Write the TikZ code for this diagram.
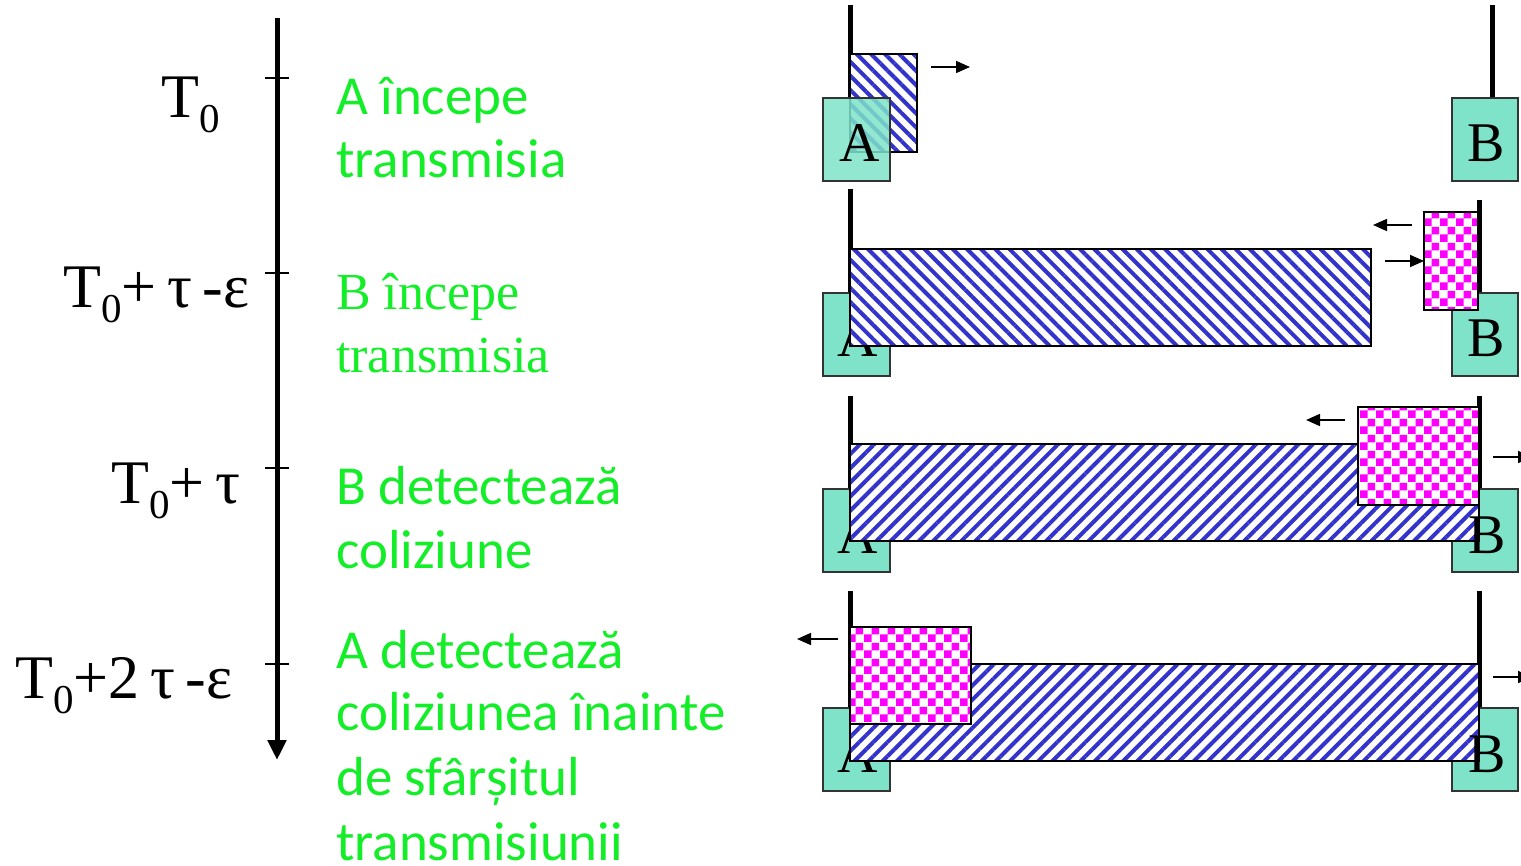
\documentclass[tikz,border=0pt]{standalone}
\usepackage{fontspec}
\setmainfont{Liberation Serif}
\newfontfamily\greenfont{Carlito}
\usetikzlibrary{arrows.meta,patterns,patterns.meta}
\definecolor{tealbox}{RGB}{126,227,200}
\definecolor{hatchblue}{RGB}{51,51,204}
\definecolor{grn}{RGB}{20,238,40}
\definecolor{mag}{RGB}{255,0,255}
\pgfdeclarepatternformonly{bigcheck}{\pgfpointorigin}{\pgfqpoint{16pt}{16pt}}{\pgfqpoint{16pt}{16pt}}{%
 \pgfpathrectangle{\pgfpointorigin}{\pgfqpoint{8pt}{8pt}}%
 \pgfpathrectangle{\pgfqpoint{8pt}{8pt}}{\pgfqpoint{8pt}{8pt}}%
 \pgfusepath{fill}}
\newcommand\subzero{\raisebox{-15pt}{\fontsize{41}{41}\selectfont 0}}
\newcommand\tgap{\hspace{0.17em}}
\begin{document}
\begin{tikzpicture}[x=1pt,y=-1pt,
  station/.style={draw=black!80,line width=1.6pt,fill=tealbox},
  stlabel/.style={inner sep=0pt,anchor=base,font=\fontsize{56}{56}\selectfont},
  wire/.style={line width=5pt},
  framedn/.style={draw=black,line width=1.6pt,preaction={fill=white},
     pattern={Lines[angle=-45,distance=10pt,line width=4pt]},pattern color=hatchblue},
  frameup/.style={draw=black,line width=1.6pt,preaction={fill=white},
     pattern={Lines[angle=45,distance=10pt,line width=4pt]},pattern color=hatchblue},
  jam/.style={draw=black,line width=1.6pt,preaction={fill=white},
     pattern=bigcheck,pattern color=mag},
  flow/.style={line width=1.6pt,-{Triangle[length=14pt,width=12pt]}},
  tlab/.style={inner sep=0pt,anchor=base west,font=\fontsize{62}{62}\selectfont},
  gtext/.style={inner sep=0pt,anchor=base west,text=grn,font=\greenfont\fontsize{55}{64}\selectfont},
  gserif/.style={inner sep=0pt,anchor=base west,text=grn,font=\fontsize{52}{64}\selectfont},
  tick/.style={line width=1.5pt}]
\useasboundingbox (0,0) rectangle (1521,866);
\clip (0,0) rectangle (1521,866);

% time axis
\coordinate (ax0) at (277,18);
\coordinate (ax1) at (277,760);
\draw[line width=5pt,-{Triangle[length=20pt,width=18pt]}] (ax0) -- (ax1);
\foreach \y/\n in {78/1,273/2,468/3,664/4}{
  \coordinate (tka\n) at (265,\y);
  \coordinate (tkb\n) at (289,\y);
  \draw[tick] (tka\n) -- (tkb\n);
}

% time labels
\node[tlab] (t1) at (161,118) {T\subzero};
\node[tlab] (t2) at (63,308) {T\subzero+\tgap τ\tgap -ε};
\node[tlab] (t3) at (111,503) {T\subzero+\tgap τ};
\node[tlab] (t4) at (15,698) {T\subzero+2\tgap τ\tgap -ε};

% green texts
\node[gtext] (g1a) at (336,115) {A începe};
\node[gtext] (g1b) at (336,178) {transmisia};
\node[gserif] (g2a) at (336,310) {B începe};
\node[gserif] (g2b) at (336,373) {transmisia};
\node[gtext] (g3a) at (336,504) {B detectează};
\node[gtext] (g3b) at (336,568) {coliziune};
\node[gtext] (g4a) at (336,668) {A detectează};
\node[gtext] (g4b) at (336,730) {coliziunea înainte};
\node[gtext] (g4c) at (336,795) {de sfârșitul};
\node[gtext] (g4d) at (336,860) {transmisiunii};

% ---------- panel 1
\coordinate (p1a0) at (850,5); \coordinate (p1a1) at (850,98);
\coordinate (p1b0) at (1492,5); \coordinate (p1b1) at (1492,98);
\draw[wire] (p1a0) -- (p1a1);
\draw[wire] (p1b0) -- (p1b1);
\path[station] (1452,98) rectangle (1518,181);
\node[stlabel] (p1B) at (1486,162) {B};
\path[framedn] (850,54) rectangle (917,152);
\path[station,fill opacity=0.85] (823,98) rectangle (890,181);
\node[stlabel] (p1A) at (860,162) {A};
\coordinate (p1r0) at (931,67); \coordinate (p1r1) at (970,67);
\draw[flow] (p1r0) -- (p1r1);

% ---------- panel 2
\coordinate (p2a0) at (850,189); \coordinate (p2a1) at (850,293);
\coordinate (p2b0) at (1479,200); \coordinate (p2b1) at (1479,293);
\draw[wire] (p2a0) -- (p2a1);
\draw[wire] (p2b0) -- (p2b1);
\path[station] (823,293) rectangle (890,376);
\node[stlabel] (p2A) at (858,357) {A};
\path[station] (1452,293) rectangle (1518,376);
\node[stlabel] (p2B) at (1486,357) {B};
\path[framedn] (850,249) rectangle (1371,346);
\path[jam] (1424,212) rectangle (1478,310);
\coordinate (p2l0) at (1412,225); \coordinate (p2l1) at (1373,225);
\coordinate (p2r0) at (1385,261); \coordinate (p2r1) at (1424,261);
\draw[flow] (p2l0) -- (p2l1);
\draw[flow] (p2r0) -- (p2r1);

% ---------- panel 3
\coordinate (p3a0) at (850,396); \coordinate (p3a1) at (850,489);
\coordinate (p3b0) at (1479,396); \coordinate (p3b1) at (1479,489);
\draw[wire] (p3a0) -- (p3a1);
\draw[wire] (p3b0) -- (p3b1);
\path[station] (823,489) rectangle (890,572);
\node[stlabel] (p3A) at (858,553) {A};
\path[station] (1452,489) rectangle (1518,572);
\path[frameup] (850,444) rectangle (1479,541);
\path[jam] (1358,407) rectangle (1479,505);
\node[stlabel] (p3B) at (1487,553) {B};
\coordinate (p3l0) at (1345,420); \coordinate (p3l1) at (1306,420);
\coordinate (p3r0) at (1493,457); \coordinate (p3r1) at (1532,457);
\draw[flow] (p3l0) -- (p3l1);
\draw[flow] (p3r0) -- (p3r1);

% ---------- panel 4
\coordinate (p4a0) at (850,591); \coordinate (p4a1) at (850,708);
\coordinate (p4b0) at (1479,591); \coordinate (p4b1) at (1479,708);
\draw[wire] (p4a0) -- (p4a1);
\draw[wire] (p4b0) -- (p4b1);
\path[station] (823,708) rectangle (890,791);
\node[stlabel] (p4A) at (858,772) {A};
\path[station] (1452,708) rectangle (1518,791);
\path[frameup] (850,664) rectangle (1479,761);
\path[jam] (850,627) rectangle (971,724);
\node[stlabel] (p4B) at (1487,772) {B};
\coordinate (p4l0) at (838,639); \coordinate (p4l1) at (797,639);
\coordinate (p4r0) at (1493,677); \coordinate (p4r1) at (1532,677);
\draw[flow] (p4l0) -- (p4l1);
\draw[flow] (p4r0) -- (p4r1);
\end{tikzpicture}
\end{document}
